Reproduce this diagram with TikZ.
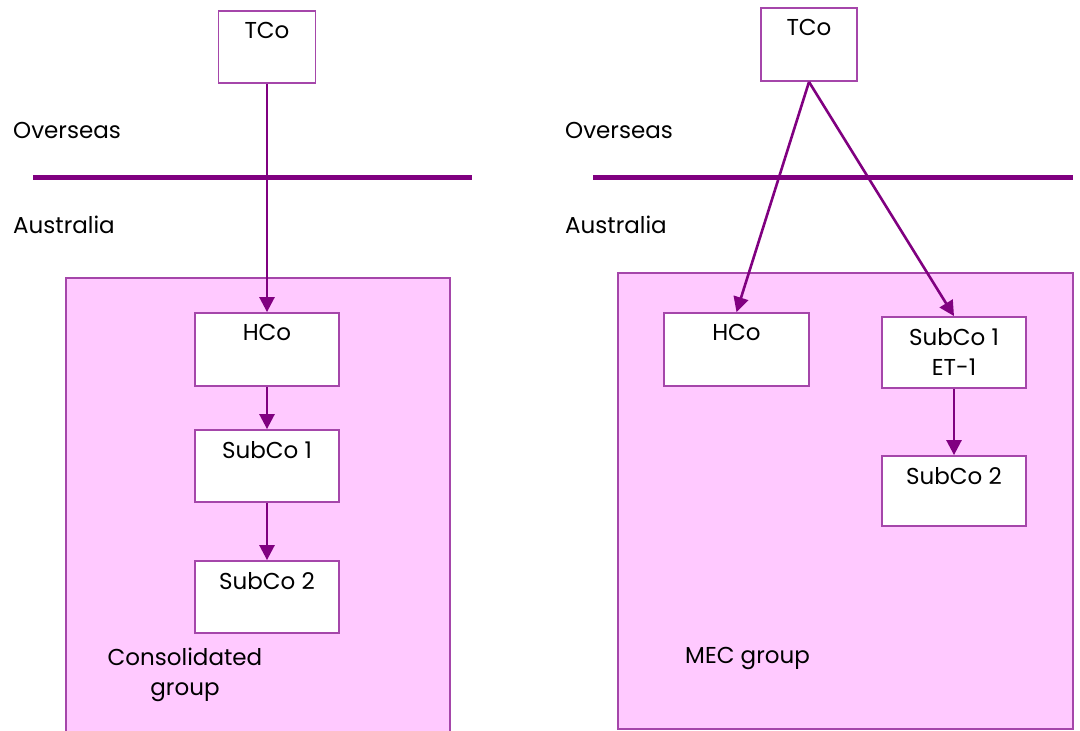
\documentclass[tikz,border=0pt]{standalone}
\usepackage{fontspec}
\setmainfont{Poppins}
\usetikzlibrary{arrows.meta}

\definecolor{frame}{RGB}{165,70,170}
\definecolor{link}{RGB}{128,0,128}
\definecolor{groupfill}{RGB}{255,201,255}

\begin{document}
\begin{tikzpicture}[x=1pt, y=-1pt,
    company/.style={draw=frame, line width=1.8pt, fill=white, inner sep=0pt},
    companytext/.style={anchor=north, inner sep=0pt, yshift=-12pt, align=center, font=\fontsize{23}{30}\selectfont},
    region/.style={anchor=base west, inner sep=0pt, font=\fontsize{23}{30}\selectfont},
    own/.style={draw=link, line width=2.6pt, -{Triangle[length=15pt,width=15pt]}},
    border/.style={draw=link, line width=5pt}]
        % Dimensioni della pagina
        \useasboundingbox (0,0) rectangle (1080,731);

        % --- SINISTRA: gruppo consolidato ---
        \fill[groupfill] (66,278) rectangle (450,740);
        \draw[frame, line width=2pt] (66,740) -- (66,278) -- (450,278) -- (450,740);

        % Confine Overseas / Australia
        \draw[border] (33,177) -- (472,177);
        \node[region] (over1) at (13,138) {Overseas};
        \node[region] (aus1) at (13,233) {Australia};

        % Societa'
        \node[company, minimum width=97pt, minimum height=72pt] (tco1) at (267,47) {};
        \node[company, minimum width=144pt, minimum height=73pt] (hco1) at (267,349.5) {};
        \node[company, minimum width=144pt, minimum height=72pt] (sub11) at (267,466) {};
        \node[company, minimum width=144pt, minimum height=72pt] (sub21) at (267,597) {};
        \node[companytext] (tco1t) at (tco1.north) {TCo};
        \node[companytext] (hco1t) at (hco1.north) {HCo};
        \node[companytext] (sub11t) at (sub11.north) {SubCo 1};
        \node[companytext] (sub21t) at (sub21.north) {SubCo 2};

        % Partecipazioni
        \draw[own] (tco1.south) -- (hco1.north);
        \draw[own] (hco1.south) -- (sub11.north);
        \draw[own] (sub11.south) -- (sub21.north);

        \node[companytext, yshift=12pt] (consol) at (185,648) {Consolidated\\group};

        % --- DESTRA: gruppo MEC ---
        \fill[groupfill] (618,273) rectangle (1073,729);
        \draw[frame, line width=2pt] (618,273) rectangle (1073,729);

        \draw[border] (593,177) -- (1073,177);
        \node[region] (over2) at (565,138) {Overseas};
        \node[region] (aus2) at (565,233) {Australia};

        \node[company, minimum width=96pt, minimum height=73pt] (tco2) at (809,44.5) {};
        \node[company, minimum width=145pt, minimum height=73pt] (hco2) at (736.5,349.5) {};
        \node[company, minimum width=144pt, minimum height=71pt] (sub12) at (954,352.5) {};
        \node[company, minimum width=144pt, minimum height=70pt] (sub22) at (954,491) {};
        \node[companytext] (tco2t) at (tco2.north) {TCo};
        \node[companytext] (hco2t) at (hco2.north) {HCo};
        \node[companytext] (sub12t) at (sub12.north) {SubCo 1\\ET-1};
        \node[companytext] (sub22t) at (sub22.north) {SubCo 2};

        \draw[own] (tco2.south) -- (hco2.north);
        \draw[own] (tco2.south) -- (sub12.north);
        \draw[own] (sub12.south) -- (sub22.north);

        \node[region] (mec) at (685,663) {MEC group};
    \end{tikzpicture}
\end{document}
